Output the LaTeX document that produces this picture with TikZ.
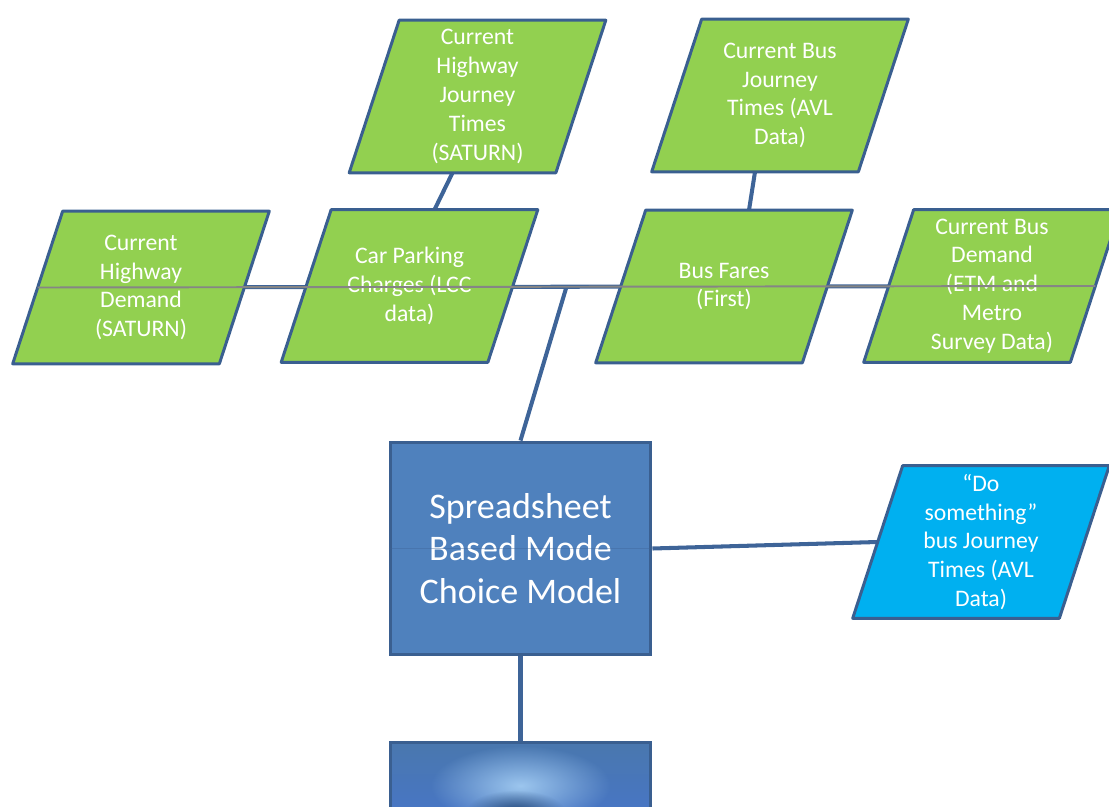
\documentclass[tikz,border=0pt]{standalone}
\usepackage{fontspec}
\setsansfont{Carlito}
\usetikzlibrary{calc, backgrounds, fadings}
\definecolor{cgreen}{HTML}{92D050}
\definecolor{ccyan}{HTML}{00B0F0}
\definecolor{csteel}{HTML}{4F81BD}
\definecolor{cedge}{HTML}{3A5F90}
\definecolor{cline}{HTML}{3E6498}
\definecolor{cgrey}{HTML}{858585}
\definecolor{cglow}{HTML}{9CC6EE}
\definecolor{cdeep}{HTML}{24497A}
\definecolor{cside}{HTML}{4876D4}
\tikzfading[name=glowout, inner color=transparent!0, outer color=transparent!100]
\tikzset{
  every picture/.style={font=\sffamily},
  para/.style={minimum width=4.12cm, minimum height=3.04cm, inner sep=1pt,
    text=white, align=center, font=\sffamily\fontsize{13.5}{16.4}\selectfont},
  paraedge/.style={draw=cedge, line width=1.7pt, line join=round},
  model/.style={draw=cedge, fill=csteel, line width=1.7pt,
    minimum width=5.22cm, minimum height=4.26cm,
    text=white, align=center, font=\sffamily\fontsize{20.5}{24.4}\selectfont},
  link/.style={draw=cline, line width=2.3pt},
}

\begin{document}
\begin{tikzpicture}[x=0.02cm, y=-0.02cm]
  \useasboundingbox (0,0) rectangle (1109,807);
  \clip (0,0) rectangle (1109,807);
  % input data
  \node[para] (hwtimes) at (477.5,96.5) {Current\\Highway\\Journey\\Times\\(SATURN)};
  \node[para] (bustimes) at (780,95.5) {Current Bus\\Journey\\Times (AVL\\Data)};
  \node[para] (hwdemand) at (141,287.5) {Current\\Highway\\Demand\\(SATURN)};
  \node[para] (parking) at (409.5,286) {Car Parking\\Charges (LCC\\data)};
  \node[para] (fares) at (724,286.5) {Bus Fares\\(First)};
  \node[para] (busdemand) at (992,286) {Current Bus\\Demand\\(ETM and\\Metro\\Survey Data)};
  % model and scenario input
  \node[model] (model) at (520.5,548.5) {Spreadsheet\\Based Mode\\Choice Model};
  \node[para] (dosomething) at (981,542) {``Do\\something''\\bus Journey\\Times (AVL\\Data)};
  \node[model, minimum height=2.4cm, shade, top color=csteel!92!black, bottom color=cside] (result) at (520.5,802) {};
  \fill[cglow, path fading=glowout] ($(result.north)+(0,45)$) ellipse [x radius=1.8cm, y radius=0.8cm];
  \fill[cdeep, path fading=glowout] ($(result.north)+(-5,72)$) ellipse [x radius=1cm, y radius=0.45cm];
  \coordinate (bus) at ($(hwdemand.west)!0.5!(busdemand.east)$);
  \begin{scope}[on background layer]
    \draw[link] (hwdemand.west) -- (busdemand.east);
    \draw[link] ([xshift=-0.5cm]hwtimes.south) -- ([xshift=0.5cm]parking.north);
    \draw[link] ([xshift=-0.5cm]bustimes.south) -- ([xshift=0.5cm]fares.north);
    \draw[link] (model.north) -- (bus);
    \draw[link] (model.east) -- (dosomething.west);
    \draw[link] (model.south) -- (result.north);
    % slanted outlines behind the text
    \foreach \n/\c in {hwtimes/cgreen, bustimes/cgreen, hwdemand/cgreen, parking/cgreen,
                       fares/cgreen, busdemand/cgreen, dosomething/ccyan}
      \draw[paraedge, fill=\c] ([xshift=0.5cm]\n.north west) -- ([xshift=0.5cm]\n.north east)
        -- ([xshift=-0.5cm]\n.south east) -- ([xshift=-0.5cm]\n.south west) -- cycle;
  \end{scope}
  \draw[cgrey, line width=1.1pt] (hwdemand.west) -- (busdemand.east);
  \draw[cline, opacity=0.4, line width=0.3pt] (model.west) -- (model.east);
\end{tikzpicture}
\end{document}
